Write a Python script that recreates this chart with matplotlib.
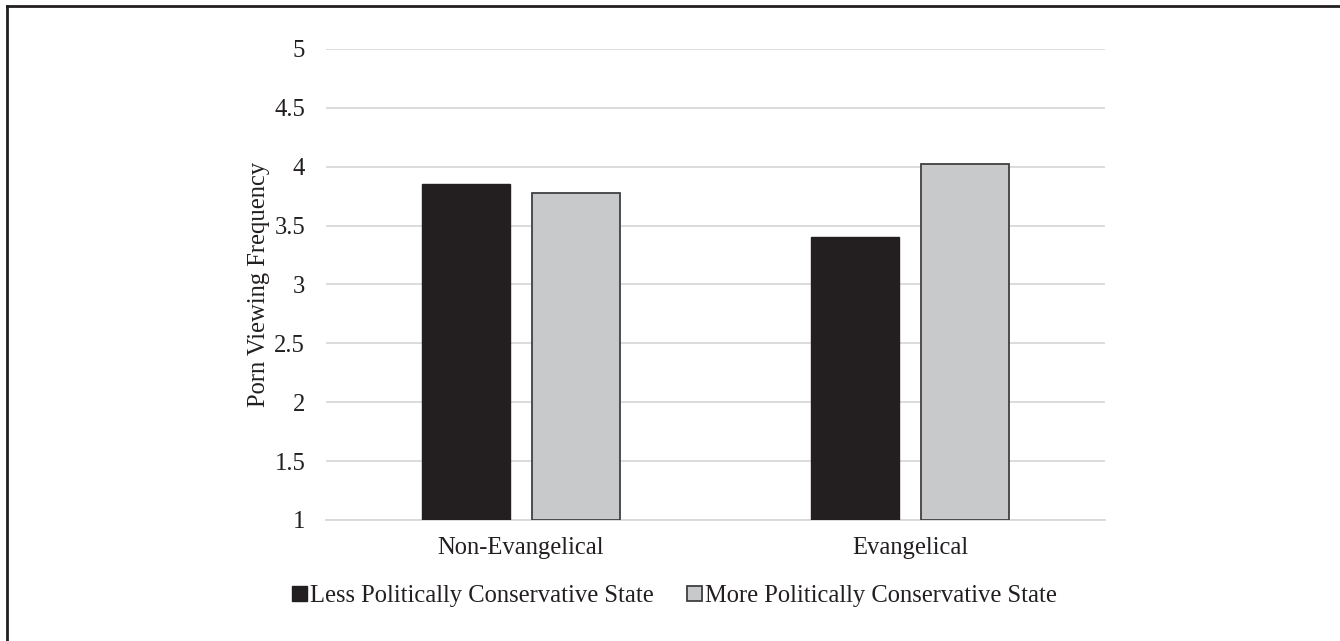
import matplotlib.pyplot as plt
import numpy as np
from matplotlib.lines import Line2D

categories = ['Non-Evangelical', 'Evangelical']
less_conservative = [3.85, 3.40]
more_conservative = [3.78, 4.02]
series_names = ['Less Politically Conservative State', 'More Politically Conservative State']
yticks = [1, 1.5, 2, 2.5, 3, 3.5, 4, 4.5, 5]

plt.rcParams['font.family'] = ['Liberation Serif', 'DejaVu Serif']
fs = 17.7

fig = plt.figure(figsize=(13.4, 6.41), dpi=100)
ax = fig.add_axes([0.2433, 0.1888, 0.5813, 0.7348])

x = np.arange(len(categories))
w = 0.226
off = 0.141
ax.bar(x - off, np.array(less_conservative) - 1, w, bottom=1, color='#231f20',
       edgecolor='#231f20', linewidth=1, zorder=3, label=series_names[0])
ax.bar(x + off, np.array(more_conservative) - 1, w, bottom=1, color='#c8c9cb',
       edgecolor='#404040', linewidth=1.3, zorder=3, label=series_names[1])

ax.set_xlim(-0.5, 1.5)
ax.set_ylim(1, 5)
ax.set_yticks(yticks)
ax.set_yticklabels([f'{t:g}' for t in yticks])
ax.set_xticks(x)
ax.set_xticklabels(categories)
ax.tick_params(axis='both', length=0, labelsize=fs, colors='#231f20')
ax.tick_params(axis='y', pad=15)
ax.tick_params(axis='x', pad=12)
ax.grid(axis='y', color='#d9d9d9', linewidth=1.3, zorder=0)
for s in ['top', 'right', 'left']:
    ax.spines[s].set_visible(False)
ax.spines['bottom'].set_color('#d9d9d9')
ax.spines['bottom'].set_linewidth(1.3)
ax.set_ylabel('Porn Viewing Frequency', fontsize=fs, color='#231f20', labelpad=3)

fig.legend(loc='center', bbox_to_anchor=(0.5034, 0.07), ncol=2, frameon=False,
           fontsize=fs, handlelength=0.6, handleheight=0.55, handletextpad=0.12,
           columnspacing=1.35, labelcolor='#231f20')

# frame lines along top and left edge
fig.add_artist(Line2D([0.0055, 1], [0.991, 0.991], color='#231f20', linewidth=2, transform=fig.transFigure))
fig.add_artist(Line2D([0.0055, 0.0055], [0, 0.991], color='#231f20', linewidth=2, transform=fig.transFigure))

fig.savefig('out.png', dpi=100)
